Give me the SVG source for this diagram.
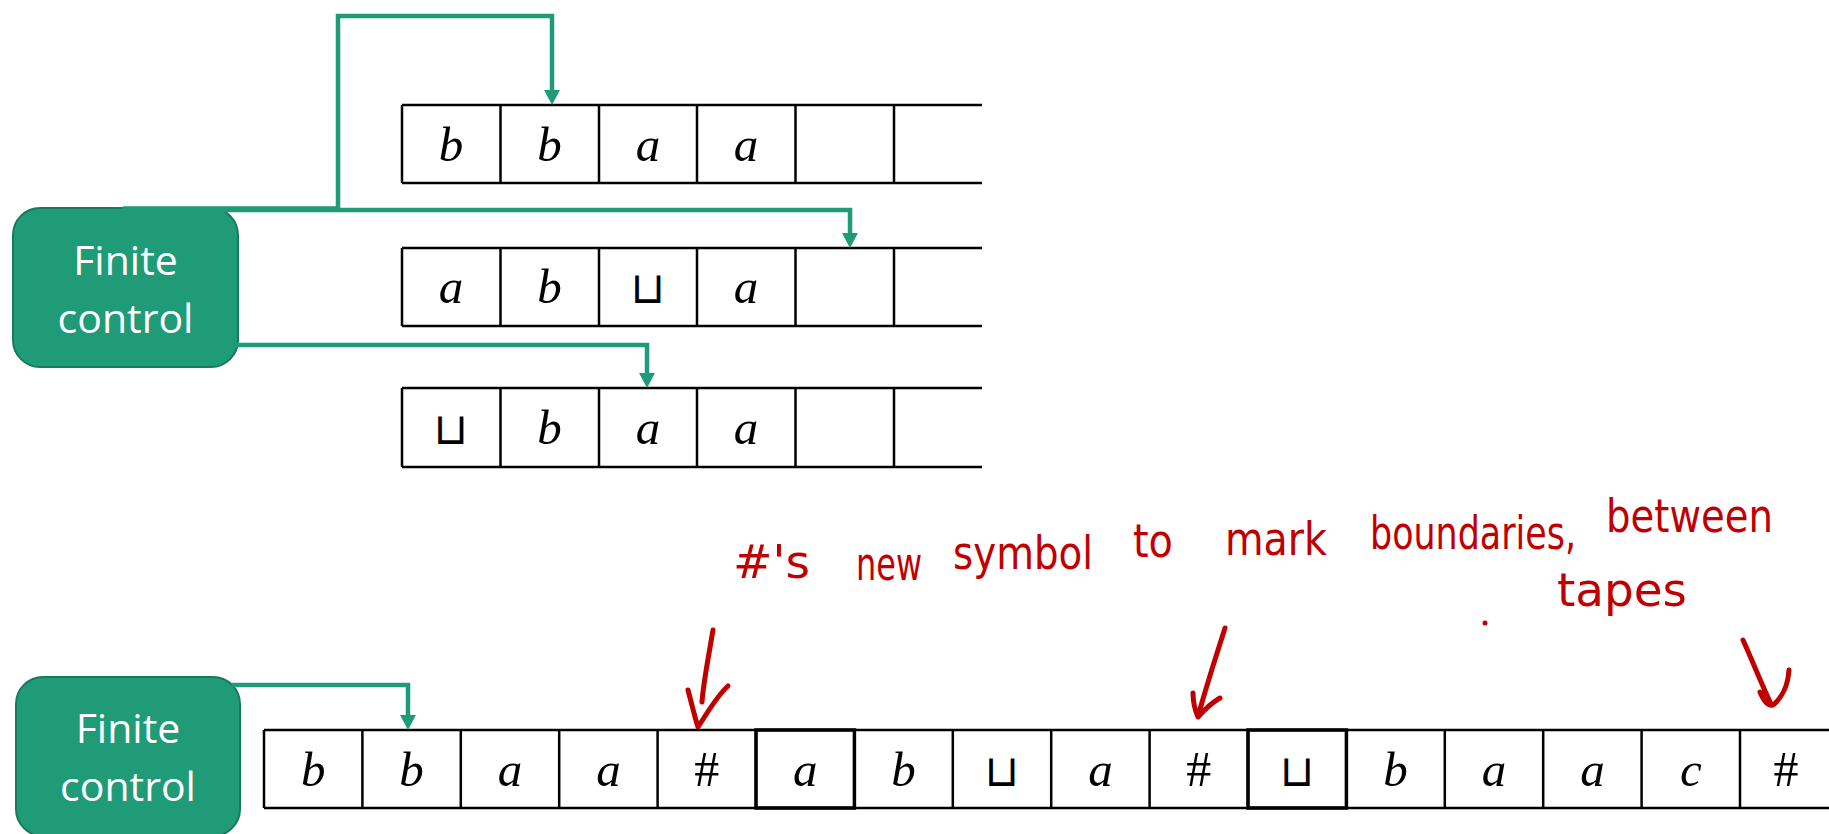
<svg xmlns="http://www.w3.org/2000/svg" width="1829" height="834" viewBox="0 0 1829 834">
  <style>
    .fc { fill: #1F9B78; stroke: #177A5E; stroke-width: 2; }
    .fct { fill: #ffffff; font-family: "Open Sans", "Noto Sans", sans-serif; font-size: 41px; text-anchor: middle; }
    .tape { fill: none; stroke: #000; stroke-width: 2.5; }
    .thick { fill: none; stroke: #000; stroke-width: 3.5; }
    .sym { fill: #000; font-family: "Liberation Serif", serif; font-style: italic; font-size: 49px; text-anchor: middle; }
    .hash { fill: #000; font-family: "Liberation Serif", serif; font-size: 50px; text-anchor: middle; }
    .blank { fill: #000; font-family: "DejaVu Sans", sans-serif; font-size: 44px; text-anchor: middle; }
    .link { fill: none; stroke: #1F9B78; stroke-width: 4.5; stroke-linejoin: miter; }
    .ink { fill: #C00000; font-family: "DejaVu Sans Condensed", "DejaVu Sans", sans-serif; font-size: 46px; }
    .inkline { fill: none; stroke: #C00000; stroke-width: 5; stroke-linecap: round; stroke-linejoin: round; }
  </style>
  <defs>
    <marker id="head" markerUnits="userSpaceOnUse" markerWidth="16" markerHeight="17" refX="0" refY="8" orient="auto">
      <path d="M0,0 L15,8 L0,16 Z" fill="#1F9B78"/>
    </marker>
  </defs>

  <rect width="1829" height="834" fill="#ffffff"/>

  <!-- multi-tape machine: finite control -->
  <g id="control-multi">
    <rect class="fc" x="13" y="208" width="225" height="159" rx="27"/>
    <text class="fct" x="125.5" y="275">Finite</text>
    <text class="fct" x="125.5" y="333">control</text>
  </g>

  <!-- tape 1 -->
  <g id="tape-1">
    <path class="tape" d="M402,105 H982 M402,183 H982 M402,105 V183 M500.5,105 V183 M599,105 V183 M697,105 V183 M795.5,105 V183 M894,105 V183"/>
    <text class="sym" x="451" y="161">b</text>
    <text class="sym" x="549.5" y="161">b</text>
    <text class="sym" x="648" y="161">a</text>
    <text class="sym" x="746" y="161">a</text>
  </g>

  <!-- tape 2 -->
  <g id="tape-2">
    <path class="tape" d="M402,248 H982 M402,326 H982 M402,248 V326 M500.5,248 V326 M599,248 V326 M697,248 V326 M795.5,248 V326 M894,248 V326"/>
    <text class="sym" x="451" y="303">a</text>
    <text class="sym" x="549.5" y="303">b</text>
    <text class="blank" x="648" y="303">⊔</text>
    <text class="sym" x="746" y="303">a</text>
  </g>

  <!-- tape 3 -->
  <g id="tape-3">
    <path class="tape" d="M402,388 H982 M402,467 H982 M402,388 V467 M500.5,388 V467 M599,388 V467 M697,388 V467 M795.5,388 V467 M894,388 V467"/>
    <text class="blank" x="451" y="444">⊔</text>
    <text class="sym" x="549.5" y="444">b</text>
    <text class="sym" x="648" y="444">a</text>
    <text class="sym" x="746" y="444">a</text>
  </g>

  <!-- single-tape machine: finite control -->
  <g id="control-single">
    <rect class="fc" x="16" y="677" width="224" height="159" rx="27"/>
    <text class="fct" x="128" y="743">Finite</text>
    <text class="fct" x="128" y="801">control</text>
  </g>

  <!-- single tape holding all three tapes separated by # -->
  <g id="tape-single">
    <path class="tape" d="M264,730 H1829 M264,808 H1829
      M264,730 V808 M362.4,730 V808 M460.8,730 V808 M559.2,730 V808 M657.6,730 V808
      M756,730 V808 M854.4,730 V808 M952.8,730 V808 M1051.2,730 V808 M1149.6,730 V808
      M1248,730 V808 M1346.4,730 V808 M1444.8,730 V808 M1543.2,730 V808 M1641.6,730 V808 M1740,730 V808"/>
    <rect class="thick" x="756" y="730" width="98.4" height="78"/>
    <rect class="thick" x="1248" y="730" width="98.4" height="78"/>
    <text class="sym" x="313.2" y="786">b</text>
    <text class="sym" x="411.6" y="786">b</text>
    <text class="sym" x="510" y="786">a</text>
    <text class="sym" x="608.4" y="786">a</text>
    <text class="hash" x="706.8" y="786">#</text>
    <text class="sym" x="805.2" y="786">a</text>
    <text class="sym" x="903.6" y="786">b</text>
    <text class="blank" x="1002" y="786">⊔</text>
    <text class="sym" x="1100.4" y="786">a</text>
    <text class="hash" x="1198.8" y="786">#</text>
    <text class="blank" x="1297.2" y="786">⊔</text>
    <text class="sym" x="1395.6" y="786">b</text>
    <text class="sym" x="1494" y="786">a</text>
    <text class="sym" x="1592.4" y="786">a</text>
    <text class="sym" x="1690.8" y="786">c</text>
    <text class="hash" x="1786" y="786">#</text>
  </g>

  <!-- head connectors -->
  <g id="connectors">
    <path class="link" d="M123,208.5 H338 V16 H552 V90" marker-end="url(#head)"/>
    <path class="link" d="M123,210 H850 V233" marker-end="url(#head)"/>
    <path class="link" d="M236,345 H647 V373" marker-end="url(#head)"/>
    <path class="link" d="M232,685 H408 V715" marker-end="url(#head)"/>
  </g>

  <!-- handwritten note -->
  <g id="note">
    <text class="ink" x="733" y="578" textLength="77" lengthAdjust="spacingAndGlyphs">#'s</text>
    <text class="ink" x="856" y="580" textLength="66" lengthAdjust="spacingAndGlyphs">new</text>
    <text class="ink" x="953" y="569" textLength="140" lengthAdjust="spacingAndGlyphs">symbol</text>
    <text class="ink" x="1133" y="557" textLength="40" lengthAdjust="spacingAndGlyphs">to</text>
    <text class="ink" x="1225" y="555" textLength="102" lengthAdjust="spacingAndGlyphs">mark</text>
    <text class="ink" x="1370" y="549" textLength="206" lengthAdjust="spacingAndGlyphs">boundaries,</text>
    <text class="ink" x="1606" y="532" textLength="167" lengthAdjust="spacingAndGlyphs">between</text>
    <text class="ink" x="1557" y="606" textLength="130" lengthAdjust="spacingAndGlyphs">tapes</text>
    <circle cx="1485" cy="623" r="2.5" fill="#C00000"/>
    <path class="inkline" d="M713,630 C708,660 703,685 702,702 M688,690 C692,705 695,718 698,727 C708,712 716,697 728,686"/>
    <path class="inkline" d="M1225,628 C1215,660 1205,690 1198,717 M1193,693 C1193,703 1195,710 1198,717 C1206,708 1213,702 1220,698"/>
    <path class="inkline" d="M1743,640 C1752,660 1762,685 1770,702 M1760,692 C1764,702 1768,706 1773,705 C1782,698 1788,685 1789,670"/>
  </g>
</svg>
